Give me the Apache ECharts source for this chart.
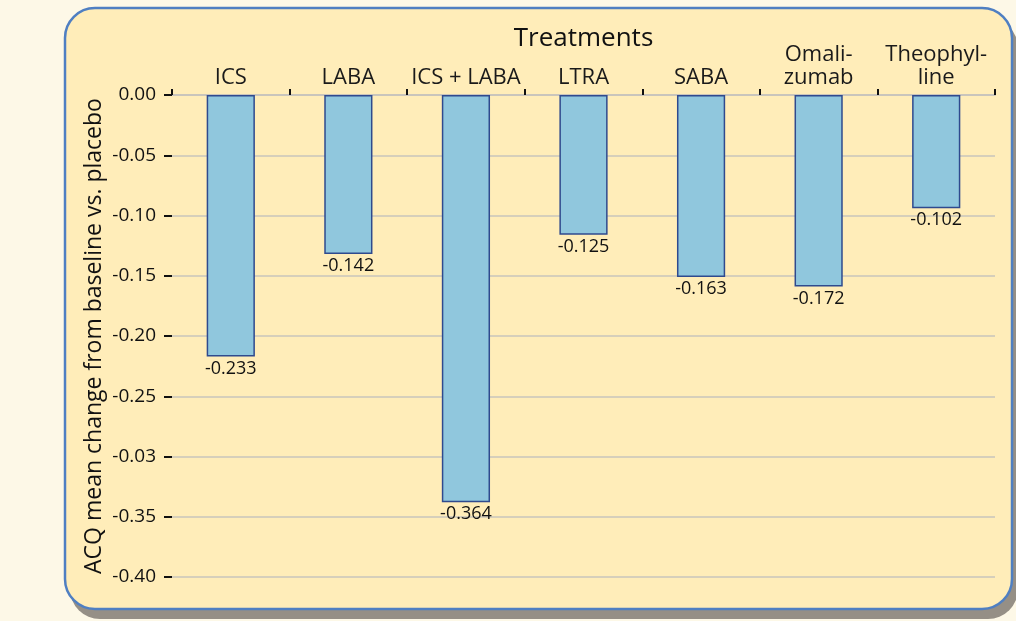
<!DOCTYPE html>
<html>
<head>
<meta charset="utf-8">
<script src="https://cdn.jsdelivr.net/npm/echarts@6/dist/echarts.min.js"></script>
<style>
html,body{margin:0;padding:0;background:#fdf8e7;}
#chart{width:1016px;height:621px;}
</style>
</head>
<body>
<div id="chart"></div>
<script>
// Data
var categories = ['ICS', 'LABA', 'ICS + LABA', 'LTRA', 'SABA', 'Omali-\nzumab', 'Theophyl-\nline'];
// bar lengths as drawn in the picture
var barValues = [-0.217, -0.132, -0.338, -0.116, -0.151, -0.159, -0.094];
// value labels printed under the bars
var valueLabels = ['-0.233', '-0.142', '-0.364', '-0.125', '-0.163', '-0.172', '-0.102'];
// y tick labels as printed (top to bottom: 0 .. -0.40)
var tickValues = [0, -0.05, -0.10, -0.15, -0.20, -0.25, -0.30, -0.35, -0.40];
var tickLabels = ['0.00', '-0.05', '-0.10', '-0.15', '-0.20', '-0.25', '-0.03', '-0.35', '-0.40'];

var FONT = 'Open Sans';
var chart = echarts.init(document.getElementById('chart'));
chart.setOption({
  backgroundColor: '#fdf8e7',
  animation: false,
  graphic: [
    { type: 'rect', z: -10, shape: { x: 70, y: 18, width: 948, height: 601, r: 30 },
      style: { fill: '#958f86' } },
    { type: 'rect', z: -9, shape: { x: 65, y: 8, width: 947, height: 601, r: 30 },
      style: { fill: '#ffedb9', stroke: '#4f7fc2', lineWidth: 2.5 } }
  ],
  grid: { left: 172, right: 21, top: 95, bottom: 44, containLabel: false },
  xAxis: {
    type: 'category',
    position: 'top',
    data: categories,
    boundaryGap: true,
    name: 'Treatments',
    nameLocation: 'middle',
    nameGap: 43,
    nameMoveOverlap: false,
    nameTextStyle: { fontFamily: FONT, fontSize: 26, color: '#111' },
    axisLine: { show: true, lineStyle: { color: '#c9c5bc', width: 2 } },
    axisTick: { show: true, length: 6, lineStyle: { color: '#111', width: 2 } },
    axisLabel: { fontFamily: FONT, fontSize: 22, color: '#1a1a1a', margin: 6, lineHeight: 23, interval: 0 },
    splitLine: { show: false }
  },
  yAxis: {
    type: 'value',
    min: -0.4, max: 0, interval: 0.05,
    name: 'ACQ mean change from baseline vs. placebo',
    nameLocation: 'middle',
    nameRotate: 90,
    nameGap: 66,
    nameMoveOverlap: false,
    nameTextStyle: { fontFamily: FONT, fontSize: 23, color: '#111' },
    axisLine: { show: false },
    axisTick: { show: true, length: 8, lineStyle: { color: '#111', width: 2 } },
    axisLabel: {
      fontFamily: FONT, fontSize: 19, color: '#111', margin: 16,
      formatter: function (v) {
        for (var i = 0; i < tickValues.length; i++) {
          if (Math.abs(tickValues[i] - v) < 1e-6) return tickLabels[i];
        }
        return '';
      }
    },
    splitLine: { show: true, lineStyle: { color: '#c9c5bc', width: 1.5 } }
  },
  series: [{
    type: 'bar',
    data: barValues,
    barWidth: '41%',
    itemStyle: { color: '#90c7dd', borderColor: '#2f4a8e', borderWidth: 1.5 },
    label: {
      show: true, position: 'bottom', distance: 3,
      fontFamily: FONT, fontSize: 18, color: '#111',
      formatter: function (p) { return valueLabels[p.dataIndex]; }
    }
  }]
});
</script>
</body>
</html>
